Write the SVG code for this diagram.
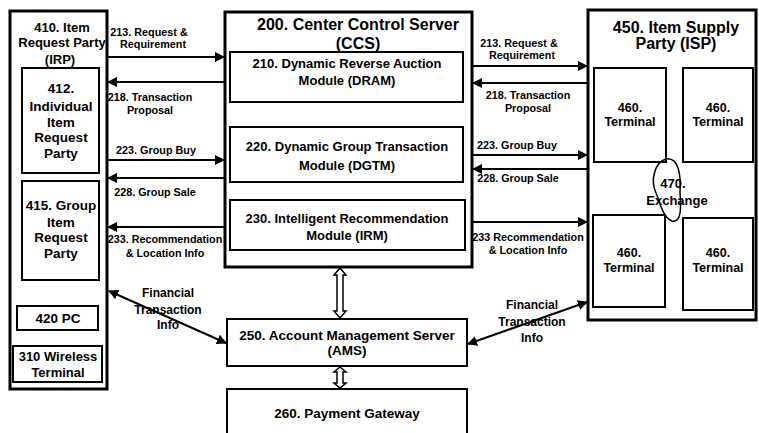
<svg xmlns="http://www.w3.org/2000/svg" width="759" height="433" viewBox="0 0 759 433">
<defs>
<style>
text{font-family:"Liberation Sans",Arial,sans-serif;font-weight:bold;fill:#000;text-anchor:middle}
.outer{fill:#fff;stroke:#000;stroke-width:3}
.inner{fill:#fff;stroke:#000;stroke-width:2}
.t16{font-size:16px}
.t13{font-size:13px}
.t135{font-size:13.5px}
.mod{font-size:13px}
.term{font-size:12.5px}
.fin{font-size:12px}
.lbl{font-size:10.8px}
.ln{stroke:#000;stroke-width:2;fill:none}
.dbl{fill:#fff;stroke:#000;stroke-width:1.5}
</style>
<marker id="ah" viewBox="0 0 10 10" refX="9" refY="5" markerWidth="5" markerHeight="5" orient="auto-start-reverse" markerUnits="strokeWidth">
<path d="M0 0 L10 5 L0 10 Z" fill="#000"/>
</marker>
</defs>
<rect width="759" height="433" fill="#fff"/>

<g id="irp">
<rect class="outer" x="10" y="11" width="97" height="378"/>
<text class="t13" x="62" y="32">410. Item</text>
<text class="t13" x="62" y="47">Request Party</text>
<text class="t13" x="60" y="64">(IRP)</text>
</g>
<g id="n412">
<rect class="inner" x="22" y="68" width="77" height="105"/>
<text class="t135" x="61" y="93">412.</text>
<text class="t135" x="61" y="111">Individual</text>
<text class="t135" x="61" y="127">Item</text>
<text class="t135" x="61" y="142">Request</text>
<text class="t135" x="61" y="158">Party</text>
</g>
<g id="n415">
<rect class="inner" x="22" y="181" width="77" height="99"/>
<text class="t135" x="61" y="210">415. Group</text>
<text class="t135" x="61" y="227">Item</text>
<text class="t135" x="61" y="242">Request</text>
<text class="t135" x="61" y="258">Party</text>
</g>
<g id="n420">
<rect class="inner" x="17" y="306" width="81" height="24"/>
<text class="t135" x="58" y="323">420 PC</text>
</g>
<g id="n310">
<rect class="inner" x="13" y="346" width="89" height="36"/>
<text class="t13" x="58" y="361">310 Wireless</text>
<text class="t13" x="58" y="377">Terminal</text>
</g>

<g id="ccs">
<rect class="outer" x="225" y="12" width="247" height="255"/>
<text class="t16" x="358" y="30">200. Center Control Server</text>
<text class="t16" x="358" y="49">(CCS)</text>
</g>
<g id="dram">
<rect class="inner" x="230" y="52" width="233" height="50"/>
<text class="mod" x="347" y="68">210. Dynamic Reverse Auction</text>
<text class="mod" x="347" y="85">Module (DRAM)</text>
</g>
<g id="dgtm">
<rect class="inner" x="230" y="127" width="233" height="55"/>
<text class="mod" x="347" y="151">220. Dynamic Group Transaction</text>
<text class="mod" x="347" y="170">Module (DGTM)</text>
</g>
<g id="irm">
<rect class="inner" x="230" y="200" width="235" height="50"/>
<text class="mod" x="347" y="223">230. Intelligent Recommendation</text>
<text class="mod" x="347" y="240">Module (IRM)</text>
</g>

<g id="isp">
<rect class="outer" x="588" y="10" width="168" height="310"/>
<text class="t16" x="676" y="33">450. Item Supply</text>
<text class="t16" x="676" y="49">Party (ISP)</text>
</g>
<g id="term1">
<rect class="inner" x="594" y="68" width="72" height="94"/>
<text class="term" x="630" y="112">460.</text>
<text class="term" x="630" y="126">Terminal</text>
</g>
<g id="term2">
<rect class="inner" x="683" y="68" width="70" height="94"/>
<text class="term" x="718" y="112">460.</text>
<text class="term" x="718" y="126">Terminal</text>
</g>
<g id="term3">
<rect class="inner" x="593" y="215" width="72" height="92"/>
<text class="term" x="629" y="257">460.</text>
<text class="term" x="629" y="272">Terminal</text>
</g>
<g id="term4">
<rect class="inner" x="683" y="218" width="70" height="92"/>
<text class="term" x="718" y="257">460.</text>
<text class="term" x="718" y="272">Terminal</text>
</g>
<g id="exchange">
<path d="M666 159 C655 162 650 180 656 193 C660 202 663 218 672 221 C682 223 681 206 680 192 C681 176 679 157 666 159 Z" fill="none" stroke="#000" stroke-width="1.5"/>
<text class="t13" x="673" y="188">470.</text>
<text class="t13" x="677" y="205">Exchange</text>
</g>

<g id="ams">
<rect class="inner" x="227" y="319" width="240" height="47"/>
<text class="t135" x="347" y="340">250. Account Management Server</text>
<text class="t135" x="347" y="355">(AMS)</text>
</g>
<g id="pg">
<rect class="inner" x="227" y="389" width="240" height="55"/>
<text class="t135" x="347" y="418">260. Payment Gateway</text>
</g>

<g id="connectors">
<line class="ln" x1="107" y1="57" x2="224" y2="57" marker-end="url(#ah)"/>
<line class="ln" x1="224" y1="82" x2="108" y2="82" marker-end="url(#ah)"/>
<line class="ln" x1="107" y1="160" x2="224" y2="160" marker-end="url(#ah)"/>
<line class="ln" x1="224" y1="178" x2="108" y2="178" marker-end="url(#ah)"/>
<line class="ln" x1="224" y1="227" x2="108" y2="227" marker-end="url(#ah)"/>
<line class="ln" x1="472" y1="66" x2="587" y2="66" marker-end="url(#ah)"/>
<line class="ln" x1="587" y1="83" x2="473" y2="83" marker-end="url(#ah)"/>
<line class="ln" x1="472" y1="155" x2="587" y2="155" marker-end="url(#ah)"/>
<line class="ln" x1="587" y1="169" x2="473" y2="169" marker-end="url(#ah)"/>
<line class="ln" x1="472" y1="222" x2="587" y2="222" marker-end="url(#ah)"/>
<line class="ln" x1="109" y1="291" x2="226" y2="343" marker-start="url(#ah)" marker-end="url(#ah)"/>
<line class="ln" x1="468" y1="344" x2="587" y2="302" marker-start="url(#ah)" marker-end="url(#ah)"/>
<path class="dbl" d="M340 268 L346 275 L343 275 L343 311 L346 311 L340 318 L334 311 L337 311 L337 275 L334 275 Z"/>
<path class="dbl" d="M340 367 L346 372 L343 372 L343 383 L346 383 L340 388 L334 383 L337 383 L337 372 L334 372 Z"/>

<text class="lbl" x="149" y="36">213. Request &amp;</text>
<text class="lbl" x="153" y="48">Requirement</text>
<text class="lbl" x="150" y="101">218. Transaction</text>
<text class="lbl" x="150" y="114">Proposal</text>
<text class="lbl" x="156" y="154">223. Group Buy</text>
<text class="lbl" x="155" y="196">228. Group Sale</text>
<text class="lbl" x="165" y="243">233. Recommendation</text>
<text class="lbl" x="165" y="257">&amp; Location Info</text>
<text class="fin" x="168" y="297">Financial</text>
<text class="fin" x="168" y="314">Transaction</text>
<text class="fin" x="168" y="329">Info</text>

<text class="lbl" x="519" y="47">213. Request &amp;</text>
<text class="lbl" x="522" y="59">Requirement</text>
<text class="lbl" x="528" y="99">218. Transaction</text>
<text class="lbl" x="528" y="112">Proposal</text>
<text class="lbl" x="517" y="149">223. Group Buy</text>
<text class="lbl" x="518" y="182">228. Group Sale</text>
<text class="lbl" x="528" y="241">233 Recommendation</text>
<text class="lbl" x="528" y="254">&amp; Location Info</text>
<text class="fin" x="532" y="309">Financial</text>
<text class="fin" x="532" y="326">Transaction</text>
<text class="fin" x="532" y="342">Info</text>
</g>
</svg>
